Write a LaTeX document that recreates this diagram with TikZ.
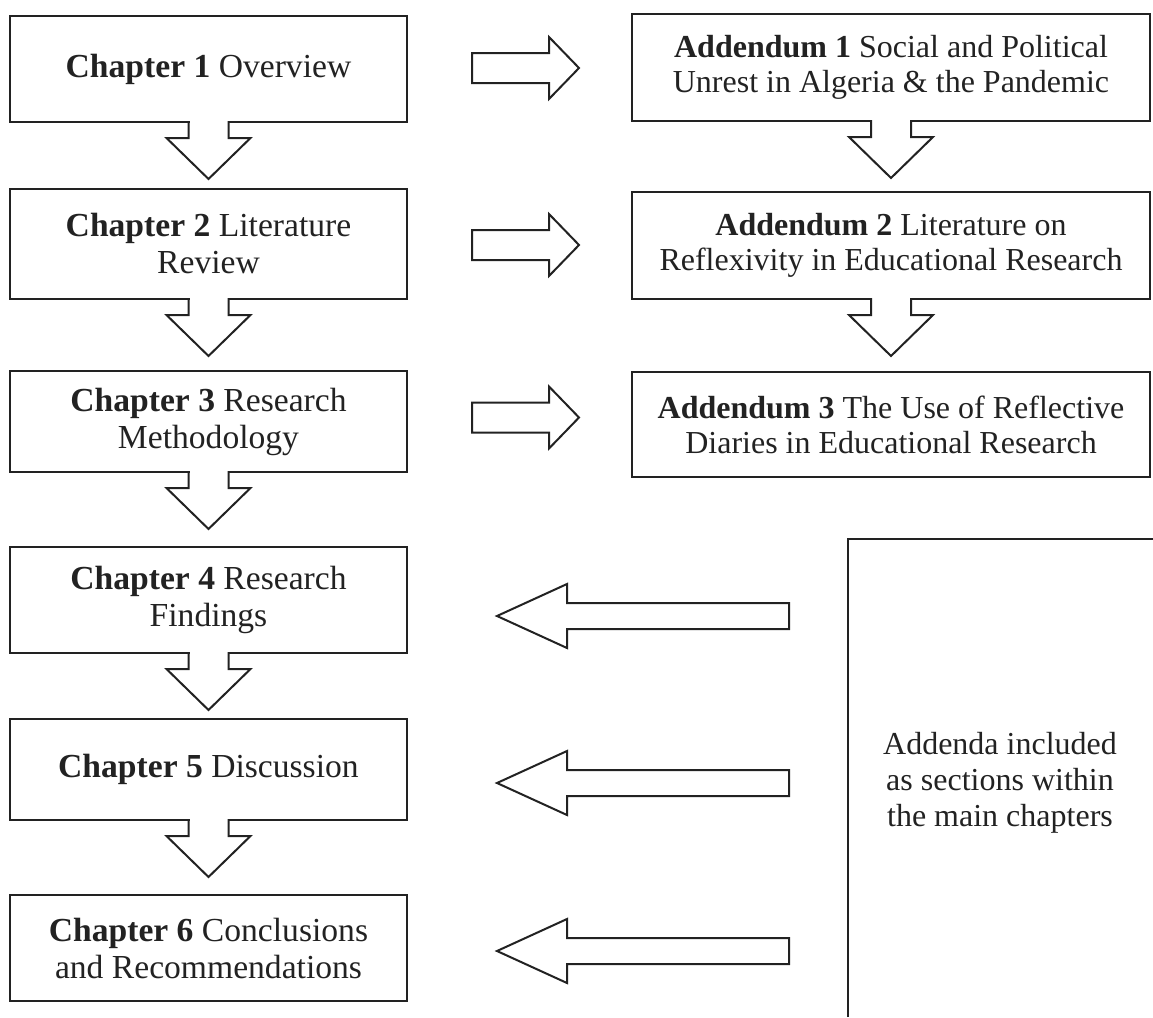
\documentclass[tikz,border=0pt]{standalone}
\usepackage{fontspec}
\setmainfont{Liberation Serif}
\usetikzlibrary{calc}
\definecolor{ink}{HTML}{222222}

\tikzset{
  blockline/.style={draw=ink, line width=2pt, line join=miter},
  chapbox/.style={blockline, fill=white, outer sep=0pt, inner sep=0pt,
    minimum width=397pt, align=center, text=ink,
    font=\fontsize{33.6}{37}\selectfont},
  addbox/.style={blockline, fill=white, outer sep=0pt, inner sep=0pt,
    minimum width=518pt, align=center, text=ink,
    font=\fontsize{32}{35}\selectfont},
  notetext/.style={align=center, text=ink, inner sep=0pt,
    font=\fontsize{32}{36}\selectfont},
}

% hollow block arrow pointing down out of the bottom edge of a box
\newcommand{\vblock}[1]{%
  \fill[white] let \p1=(#1.south) in ({\x1-19},{\y1+1.5}) rectangle ({\x1+19},{\y1-1.5});
  \draw[blockline] let \p1=(#1.south) in
    ({\x1-20},{\y1+1}) -- ({\x1-20},{\y1-16}) -- ({\x1-42},{\y1-16}) --
    (\x1,{\y1-57}) -- ({\x1+42},{\y1-16}) -- ({\x1+20},{\y1-16}) -- ({\x1+20},{\y1+1});
}

% hollow horizontal block arrow: tail, tip, shaft half-width, head half-width, head length
\newcommand{\hblock}[5]{%
  \draw[blockline] let \p1=(#1), \p2=(#2) in
    (\x1,{\y1-#3}) -- ({\x2-(#5)},{\y1-#3}) -- ({\x2-(#5)},{\y1-#4}) --
    (\x2,\y1) -- ({\x2-(#5)},{\y1+#4}) -- ({\x2-(#5)},{\y1+#3}) --
    (\x1,{\y1+#3}) -- cycle;
}

\begin{document}
\begin{tikzpicture}[x=1pt,y=-1pt]
\useasboundingbox (0,0) rectangle (1153,1017);

% main chapters
\node[chapbox, minimum height=106pt] (ch1) at (208.5,69)    {\textbf{Chapter 1} Overview};
\node[chapbox, minimum height=110pt] (ch2) at (208.5,244)   {\textbf{Chapter 2} Literature\\Review};
\node[chapbox, minimum height=101pt] (ch3) at (208.5,421.5) {\textbf{Chapter 3} Research\\Methodology};
\node[chapbox, minimum height=106pt] (ch4) at (208.5,600)   {\textbf{Chapter 4} Research\\Findings};
\node[chapbox, minimum height=101pt] (ch5) at (208.5,769.5) {\textbf{Chapter 5} Discussion};
\node[chapbox, minimum height=106pt] (ch6) at (208.5,948)   {\textbf{Chapter 6} Conclusions\\and Recommendations};

% addenda
\node[addbox, minimum height=107pt] (ad1) at (891,67.5)  {\textbf{Addendum 1} Social and Political\\Unrest in Algeria \& the Pandemic};
\node[addbox, minimum height=107pt] (ad2) at (891,245.5) {\textbf{Addendum 2} Literature on\\Reflexivity in Educational Research};
\node[addbox, minimum height=105pt] (ad3) at (891,424.5) {\textbf{Addendum 3} The Use of Reflective\\Diaries in Educational Research};

% open frame holding the note
\coordinate (frame) at (848,539);
\draw[blockline] (848,1017) -- (frame) -- (1153,539);
\node[notetext] (note) at (1000,783) {Addenda included\\as sections within\\the main chapters};

% flow down the chapters
\vblock{ch1}
\vblock{ch2}
\vblock{ch3}
\vblock{ch4}
\vblock{ch5}

% flow down the addenda
\vblock{ad1}
\vblock{ad2}

% chapters lead to addenda
\coordinate (r1) at ($(ch1.east)+(65,-1)$);
\coordinate (r1tip) at ($(r1 -| ad1.west)+(-53,0)$);
\coordinate (r2) at ($(ch2.east)+(65,1)$);
\coordinate (r2tip) at ($(r2 -| ad2.west)+(-53,0)$);
\coordinate (r3) at ($(ch3.east)+(65,-4)$);
\coordinate (r3tip) at ($(r3 -| ad3.west)+(-53,0)$);
\hblock{r1}{r1tip}{15}{31}{30}
\hblock{r2}{r2tip}{15}{31}{30}
\hblock{r3}{r3tip}{15}{31}{30}

% addenda folded back into later chapters
\coordinate (l1) at ($(frame |- ch4.east)+(-59,16)$);
\coordinate (l1tip) at ($(l1 -| ch4.east)+(90,0)$);
\coordinate (l2) at ($(frame |- ch5.east)+(-59,13.5)$);
\coordinate (l2tip) at ($(l2 -| ch5.east)+(90,0)$);
\coordinate (l3) at ($(frame |- ch6.east)+(-59,3)$);
\coordinate (l3tip) at ($(l3 -| ch6.east)+(90,0)$);
\hblock{l1}{l1tip}{13}{32}{-70}
\hblock{l2}{l2tip}{13}{32}{-70}
\hblock{l3}{l3tip}{13}{32}{-70}
\end{tikzpicture}
\end{document}
